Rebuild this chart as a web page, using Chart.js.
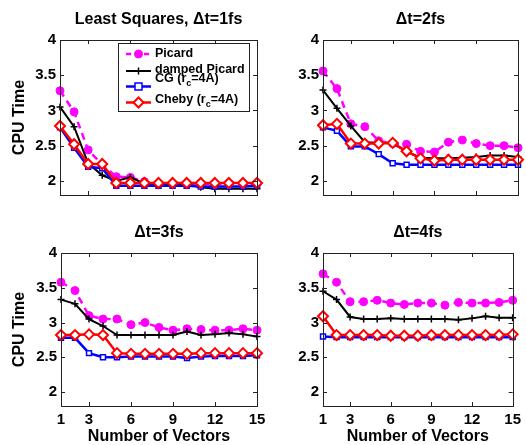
<!DOCTYPE html>
<html>
<head>
<meta charset="utf-8">
<script src="https://cdn.jsdelivr.net/npm/chart.js@4.4.0/dist/chart.umd.min.js"></script>
<style>
  body { margin: 0; background: #fff; }
  #wrap { position: relative; width: 526px; height: 445px; }
  canvas { position: absolute; left: 0; top: 0; }
</style>
</head>
<body>
<div id="wrap">
  <canvas id="p1" width="526" height="445"></canvas>
  <canvas id="p2" width="526" height="445"></canvas>
  <canvas id="p3" width="526" height="445"></canvas>
  <canvas id="p4" width="526" height="445"></canvas>
</div>
<script>
// number of vectors
const xs = [1, 2, 3, 4, 5, 6, 7, 8, 9, 10, 11, 12, 13, 14, 15];
const xTicks = [1, 3, 6, 9, 12, 15];
const yTicks = [2, 2.5, 3, 3.5, 4];

// dt = 1fs (least squares)
const picard1 = [3.28, 2.98, 2.44, 2.23, 2.06, 2.05, 1.99, 1.96, 1.96, 1.96, 1.96, 1.96, 1.96, 1.96, 1.96];
const damped1 = [3.05, 2.77, 2.25, 2.08, 2.00, 2.05, 1.96, 1.95, 1.95, 1.95, 1.91, 1.89, 1.89, 1.89, 1.89];
const cg1     = [2.76, 2.47, 2.20, 2.18, 1.93, 1.93, 1.93, 1.93, 1.93, 1.93, 1.92, 1.92, 1.92, 1.92, 1.93];
const cheby1  = [2.78, 2.52, 2.24, 2.24, 1.97, 1.97, 1.97, 1.97, 1.97, 1.97, 1.97, 1.97, 1.97, 1.97, 1.97];

// dt = 2fs
const picard2 = [3.56, 3.31, 2.81, 2.77, 2.57, 2.53, 2.52, 2.42, 2.41, 2.55, 2.58, 2.53, 2.50, 2.50, 2.47];
const damped2 = [3.29, 3.03, 2.78, 2.55, 2.54, 2.53, 2.42, 2.33, 2.32, 2.32, 2.33, 2.34, 2.36, 2.36, 2.34];
const cg2     = [2.76, 2.71, 2.49, 2.49, 2.38, 2.25, 2.23, 2.23, 2.23, 2.23, 2.23, 2.23, 2.23, 2.23, 2.23];
const cheby2  = [2.79, 2.81, 2.53, 2.53, 2.53, 2.54, 2.42, 2.32, 2.29, 2.30, 2.30, 2.30, 2.30, 2.30, 2.30];

// dt = 3fs
const picard3 = [3.58, 3.46, 3.10, 3.05, 3.05, 2.97, 3.00, 2.93, 2.89, 2.91, 2.90, 2.89, 2.89, 2.91, 2.89];
const damped3 = [3.33, 3.27, 3.05, 2.95, 2.82, 2.82, 2.82, 2.82, 2.82, 2.87, 2.82, 2.83, 2.85, 2.83, 2.80];
const cg3     = [2.78, 2.78, 2.56, 2.50, 2.50, 2.51, 2.51, 2.51, 2.51, 2.49, 2.51, 2.52, 2.52, 2.52, 2.53];
const cheby3  = [2.82, 2.82, 2.83, 2.82, 2.56, 2.55, 2.55, 2.55, 2.55, 2.55, 2.56, 2.56, 2.56, 2.56, 2.56];

// dt = 4fs
const picard4 = [3.70, 3.58, 3.30, 3.30, 3.32, 3.28, 3.26, 3.28, 3.28, 3.25, 3.29, 3.28, 3.28, 3.29, 3.32];
const damped4 = [3.45, 3.33, 3.08, 3.05, 3.05, 3.06, 3.05, 3.05, 3.05, 3.05, 3.04, 3.06, 3.09, 3.07, 3.07];
const cg4     = [2.80, 2.79, 2.79, 2.79, 2.79, 2.79, 2.79, 2.79, 2.79, 2.79, 2.79, 2.79, 2.79, 2.79, 2.79];
const cheby4  = [3.09, 2.82, 2.82, 2.82, 2.82, 2.81, 2.81, 2.81, 2.82, 2.82, 2.82, 2.82, 2.82, 2.82, 2.83];

const FONT = '"Liberation Sans", Arial, Helvetica, sans-serif';

const styles = [
  { name: 'Picard', color: '#ff00ff', dash: [7, 5], pointStyle: 'circle', radius: 4, bg: '#ff00ff', width: 2.5, pw: 1 },
  { name: 'damped Picard', color: '#000000', dash: [], pointStyle: 'cross', radius: 3.5, bg: '#000000', width: 2, pw: 1.5 },
  { name: 'CG', color: '#0000ff', dash: [], pointStyle: 'rect', radius: 3.5, bg: '#ffffff', width: 2.5, pw: 1.5 },
  { name: 'Cheby', color: '#ff0000', dash: [], pointStyle: 'rectRot', radius: 5, bg: '#ffffff', width: 2.5, pw: 2 }
];

// box with inward ticks on all four sides
const boxPlugin = {
  id: 'boxTicks',
  afterDatasetsDraw(chart) {
    const { ctx, chartArea: a, scales } = chart;
    const tl = 4;
    ctx.save();
    ctx.strokeStyle = '#222';
    ctx.lineWidth = 1;
    ctx.beginPath();
    xTicks.forEach(v => {
      const x = Math.round(scales.x.getPixelForValue(v)) + 0.5;
      ctx.moveTo(x, a.bottom); ctx.lineTo(x, a.bottom - tl);
      ctx.moveTo(x, a.top); ctx.lineTo(x, a.top + tl);
    });
    yTicks.forEach(v => {
      const y = Math.round(scales.y.getPixelForValue(v)) + 0.5;
      ctx.moveTo(a.left, y); ctx.lineTo(a.left + tl, y);
      ctx.moveTo(a.right, y); ctx.lineTo(a.right - tl, y);
    });
    ctx.stroke();
    ctx.strokeRect(Math.round(a.left) + 0.5, Math.round(a.top) + 0.5,
      Math.round(a.right - a.left), Math.round(a.bottom - a.top));
    ctx.restore();
  }
};

function marker(ctx, s, x, y) {
  ctx.save();
  ctx.strokeStyle = s.color;
  ctx.fillStyle = s.bg;
  ctx.lineWidth = s.pw;
  const r = s.radius;
  ctx.beginPath();
  if (s.pointStyle === 'circle') {
    ctx.arc(x, y, r, 0, Math.PI * 2);
    ctx.fill(); ctx.stroke();
  } else if (s.pointStyle === 'cross') {
    ctx.moveTo(x - r, y); ctx.lineTo(x + r, y);
    ctx.moveTo(x, y - r); ctx.lineTo(x, y + r);
    ctx.stroke();
  } else if (s.pointStyle === 'rect') {
    ctx.rect(x - r, y - r, 2 * r, 2 * r);
    ctx.fill(); ctx.stroke();
  } else {
    ctx.moveTo(x, y - r); ctx.lineTo(x + r, y); ctx.lineTo(x, y + r); ctx.lineTo(x - r, y); ctx.closePath();
    ctx.fill(); ctx.stroke();
  }
  ctx.restore();
}

const legendPlugin = {
  id: 'boxLegend',
  afterDraw(chart) {
    const ctx = chart.ctx;
    ctx.save();
    ctx.fillStyle = '#fff';
    ctx.fillRect(118.5, 43.5, 131, 68);
    ctx.strokeStyle = '#222';
    ctx.lineWidth = 1;
    ctx.strokeRect(118.5, 43.5, 131, 68);
    const rows = [
      { lineY: 54, textY: 54, text: ['Picard'] },
      { lineY: 71, textY: 69.5, text: ['damped Picard'] },
      { lineY: 86.5, textY: 79, text: ['CG (r', 'c', '=4A)'] },
      { lineY: 102.5, textY: 99.5, text: ['Cheby (r', 'c', '=4A)'] }
    ];
    rows.forEach((row, i) => {
      const s = styles[i];
      ctx.strokeStyle = s.color;
      ctx.lineWidth = s.width;
      ctx.setLineDash(s.dash.length ? [5, 4] : []);
      ctx.beginPath();
      ctx.moveTo(126, row.lineY); ctx.lineTo(151, row.lineY);
      ctx.stroke();
      ctx.setLineDash([]);
      marker(ctx, s, 138.5, row.lineY);
      ctx.fillStyle = '#000';
      ctx.textBaseline = 'middle';
      ctx.textAlign = 'left';
      let x = 155;
      row.text.forEach((t, k) => {
        if (k === 1) {
          ctx.font = 'bold 9px ' + FONT;
          ctx.fillText(t, x, row.textY + 5);
        } else {
          ctx.font = 'bold 12.5px ' + FONT;
          ctx.fillText(t, x, row.textY);
        }
        x += ctx.measureText(t).width;
      });
    });
    ctx.restore();
  }
};

function makePanel(id, title, series, area, opts) {
  const yWidth = opts.yTitle ? area.left - 10.4 : 40;
  const padLeft = area.left - yWidth;
  const xHeight = opts.xLabels ? 445 - area.bottom : 0;
  const datasets = series.map((vals, i) => {
    const s = styles[i];
    return {
      label: s.name,
      data: xs.map((x, k) => ({ x: x, y: vals[k] })),
      borderColor: s.color,
      borderWidth: s.width,
      borderDash: s.dash,
      pointStyle: s.pointStyle,
      pointRadius: s.radius,
      pointBackgroundColor: s.bg,
      pointBorderColor: s.color,
      pointBorderWidth: s.pw,
      tension: 0,
      clip: false,
      order: 3 - i
    };
  });
  return new Chart(document.getElementById(id), {
    type: 'line',
    data: { datasets: datasets },
    options: {
      responsive: false,
      animation: false,
      devicePixelRatio: 1,
      layout: {
        autoPadding: false,
        padding: { left: padLeft, right: 526 - area.right, top: area.top - 40, bottom: 445 - area.bottom - xHeight }
      },
      scales: {
        x: {
          type: 'linear',
          min: 1,
          max: 15,
          afterBuildTicks: scale => { scale.ticks = xTicks.map(v => ({ value: v })); },
          afterFit: scale => { scale.height = xHeight; },
          grid: { display: false, drawTicks: false },
          border: { display: false },
          ticks: {
            display: opts.xLabels,
            padding: 5,
            color: '#000',
            maxRotation: 0,
            font: { family: FONT, size: 15, weight: 'bold' }
          },
          title: {
            display: opts.xLabels,
            text: 'Number of Vectors',
            color: '#000',
            padding: 0,
            font: { family: FONT, size: 16, weight: 'bold', lineHeight: 1 }
          }
        },
        y: {
          min: 1.8,
          max: 4,
          afterBuildTicks: scale => { scale.ticks = yTicks.map(v => ({ value: v })); },
          afterFit: scale => { scale.width = yWidth; },
          grid: { display: false, drawTicks: false },
          border: { display: false },
          ticks: {
            padding: 4,
            color: '#000',
            callback: v => String(v),
            font: { family: FONT, size: 15, weight: 'bold' }
          },
          title: {
            display: opts.yTitle,
            text: 'CPU Time',
            color: '#000',
            padding: 0,
            font: { family: FONT, size: 16, weight: 'bold' }
          }
        }
      },
      plugins: {
        legend: { display: false },
        tooltip: { enabled: false },
        title: {
          display: true,
          text: title,
          fullSize: false,
          color: '#000',
          padding: { top: 10.4, bottom: 10.4 },
          font: { family: FONT, size: 16, weight: 'bold' }
        }
      }
    },
    plugins: opts.legend ? [boxPlugin, legendPlugin] : [boxPlugin]
  });
}

makePanel('p1', 'Least Squares, \u0394t=1fs', [picard1, damped1, cg1, cheby1],
  { left: 60, right: 257, top: 40, bottom: 195 }, { yTitle: true, xLabels: false, legend: true });
makePanel('p2', '\u0394t=2fs', [picard2, damped2, cg2, cheby2],
  { left: 323, right: 518, top: 40, bottom: 195 }, { yTitle: false, xLabels: false, legend: false });
makePanel('p3', '\u0394t=3fs', [picard3, damped3, cg3, cheby3],
  { left: 61, right: 257, top: 253, bottom: 406 }, { yTitle: true, xLabels: true, legend: false });
makePanel('p4', '\u0394t=4fs', [picard4, damped4, cg4, cheby4],
  { left: 323, right: 519, top: 253, bottom: 406 }, { yTitle: false, xLabels: true, legend: false });
</script>
</body>
</html>
